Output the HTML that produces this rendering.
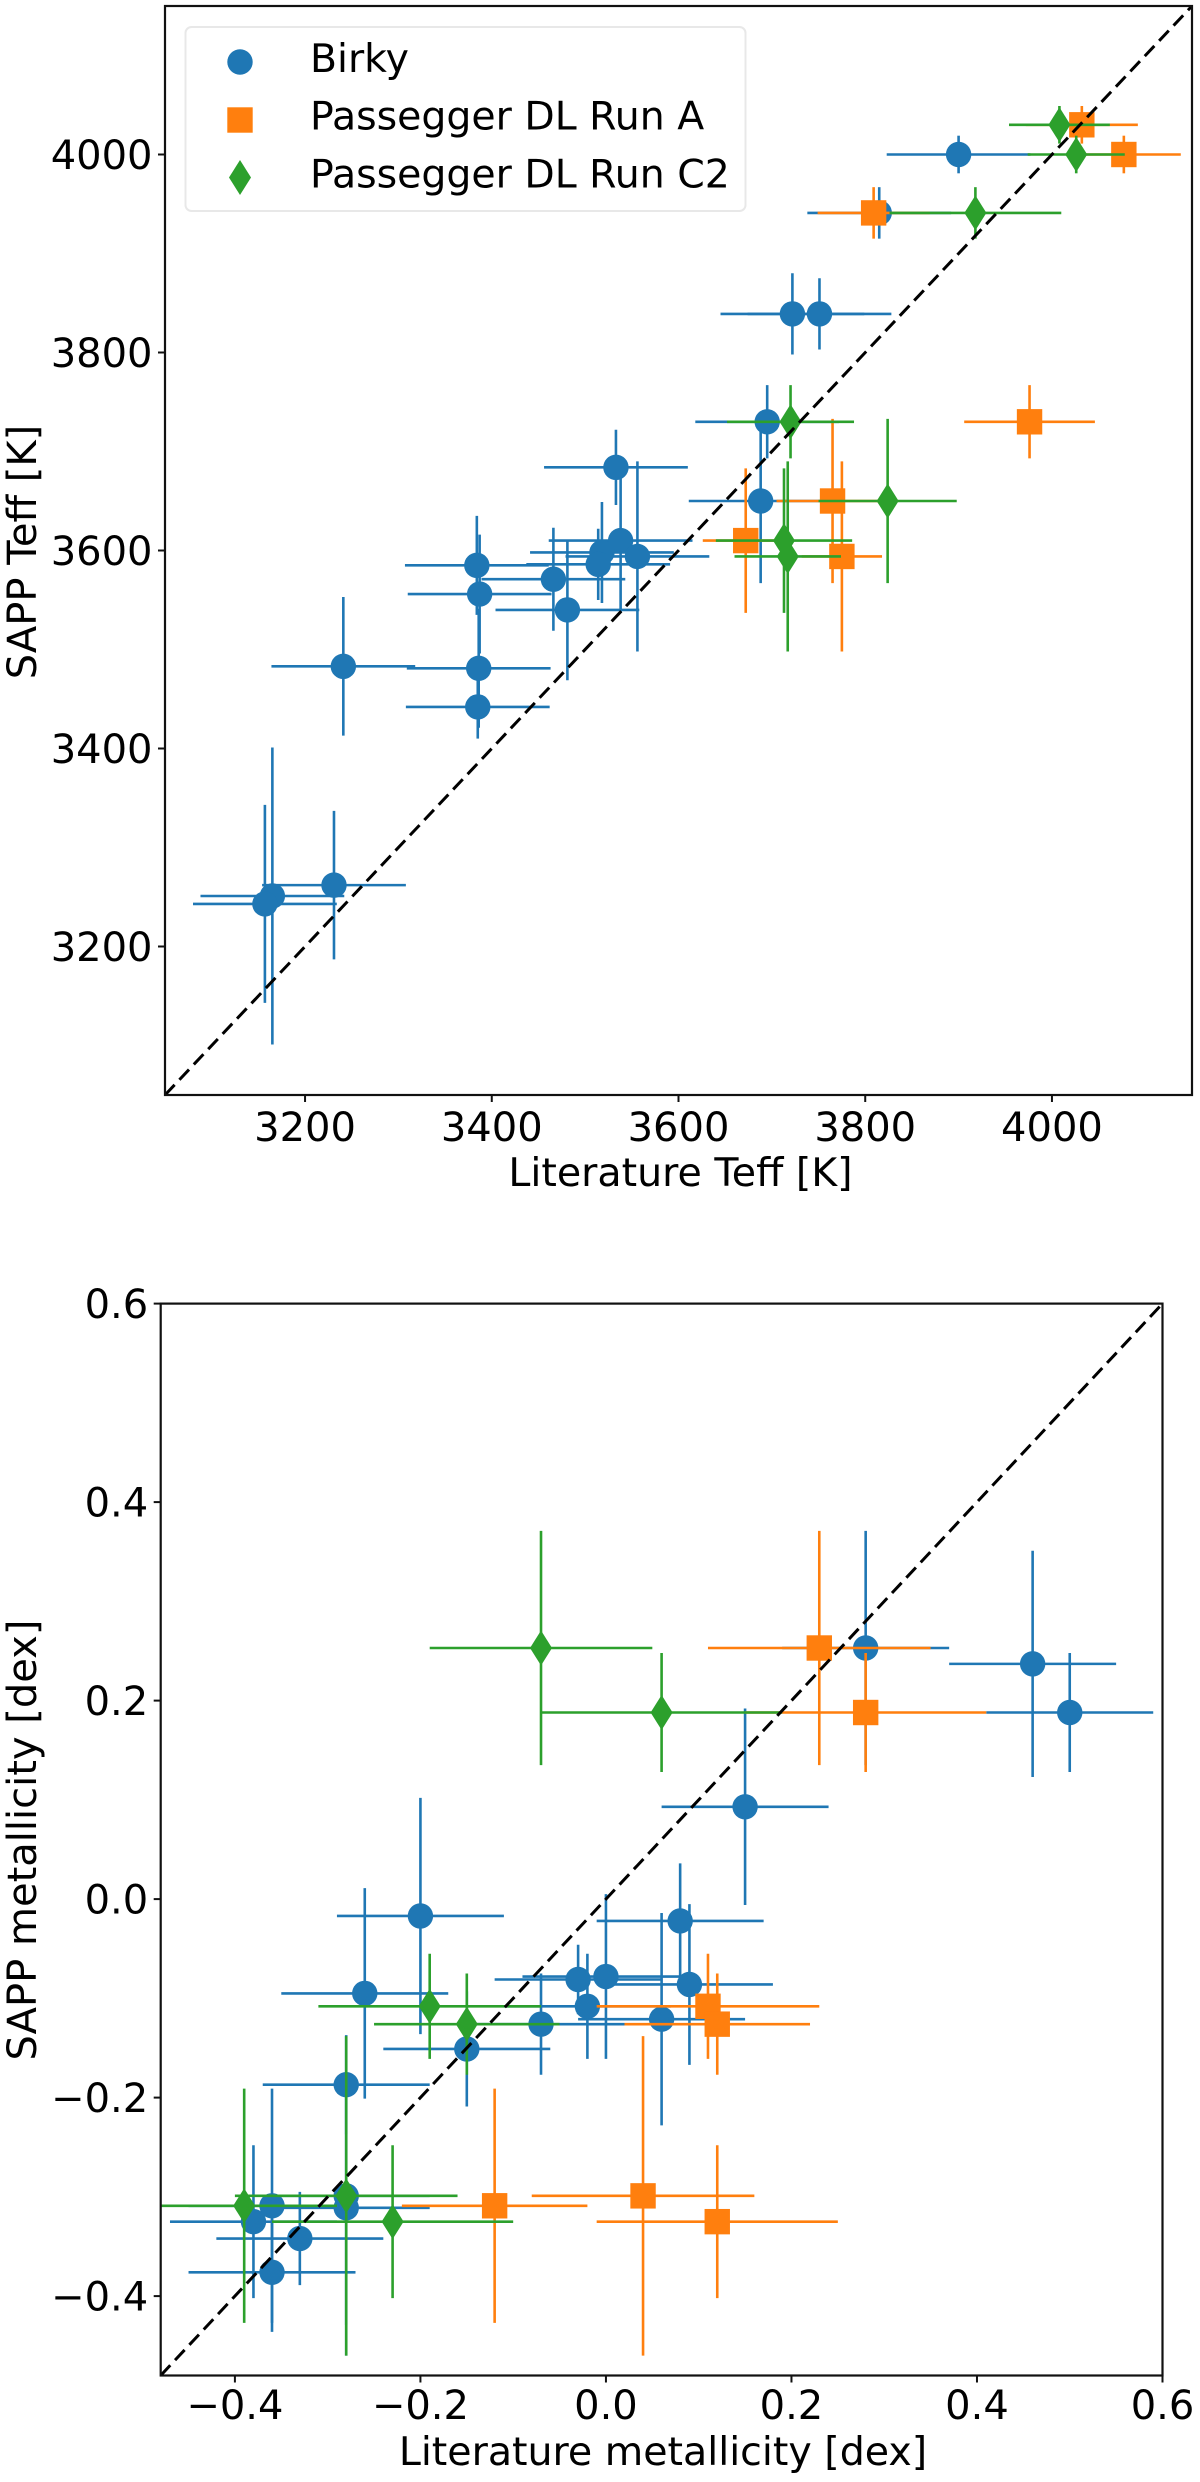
<!DOCTYPE html>
<html lang="en">
<head>
<meta charset="utf-8">
<title>SAPP vs literature comparison</title>
<style>
  html, body { margin: 0; padding: 0; background: #fff; }
  svg { display: block; }
  text { font-family: "DejaVu Sans", "Liberation Sans", sans-serif; fill: #000; }
</style>
</head>
<body>
<svg id="figure" xmlns="http://www.w3.org/2000/svg" width="1200" height="2482" viewBox="0 0 1200 2482">
  <defs>
    <clipPath id="clip-teff"><rect x="165" y="6" width="1027" height="1089"></rect></clipPath>
    <clipPath id="clip-metal"><rect x="160.7" y="1303.6" width="1001.8" height="1071.9"></rect></clipPath>
  </defs>
  <g id="panel-teff"></g>
  <g id="panel-metal"></g>
  <g id="legend">
    <rect x="185.5" y="27" width="560" height="184" rx="6" ry="6" fill="#fff" stroke="#e8e8e8" stroke-width="2"></rect>
    <g>
      <circle cx="240" cy="62" r="12.7" fill="#1f77b4"></circle>
      <text x="310" y="72" font-size="39.4">Birky</text>
    </g>
    <g>
      <rect x="227.3" y="107.3" width="25.4" height="25.4" fill="#ff7f0e"></rect>
      <text x="310" y="129.5" font-size="39.4">Passegger DL Run A</text>
    </g>
    <g>
      <polygon points="240,160 251,177.5 240,195 229,177.5" fill="#2ca02c"></polygon>
      <text x="310" y="187.5" font-size="39.4">Passegger DL Run C2</text>
    </g>
  </g>
</svg>
<script>
// ---------- Teff panel data ----------
const teffTicks = [3200, 3400, 3600, 3800, 4000];
const teffLimits = [3050, 4150];

const teffLitBirky = [3900, 3815, 3722, 3751, 3695, 3688, 3533, 3538, 3556, 3518, 3514, 3466, 3481, 3384, 3387, 3386, 3385, 3241, 3231, 3165, 3157];
const teffSappBirky = [4000, 3941, 3839, 3839, 3730, 3650, 3684, 3610, 3594, 3598, 3586, 3571, 3540, 3585, 3556, 3481, 3442, 3483, 3262, 3251, 3243];
const teffLitErrBirky = [77, 77, 77, 77, 77, 77, 77, 77, 77, 77, 77, 77, 77, 77, 77, 77, 77, 77, 77, 77, 77];
const teffSappErrBirky = [19, 26, 41, 36, 37, 83, 38, 73, 96, 51, 36, 52, 71, 50, 60, 60, 32, 70, 75, 150, 100];

const teffLitRunA = [4032, 4077, 3809, 3976, 3765, 3672, 3775];
const teffSappRunA = [4030, 4000, 3941, 3730, 3650, 3610, 3594];
const teffLitErrRunA = [60, 61, 60, 70, 60, 46, 43];
const teffSappErrRunA = [19, 19, 26, 37, 83, 73, 96];

const teffLitRunC2 = [4008, 4026, 3918, 3720, 3824, 3713, 3717];
const teffSappRunC2 = [4030, 4000, 3941, 3730, 3650, 3610, 3594];
const teffLitErrRunC2 = [54, 52, 92, 68, 74, 73, 57];
const teffSappErrRunC2 = [19, 19, 26, 37, 83, 73, 96];

// ---------- Metallicity panel data ----------
const metalTicks = [-0.4, -0.2, 0.0, 0.2, 0.4, 0.6];
const metalLimits = [-0.48, 0.6];

const metalLitBirky = [0.28, 0.46, 0.50, 0.15, 0.08, -0.20, -0.26, -0.03, 0.00, 0.09, -0.02, 0.06, -0.07, -0.15, -0.28, -0.36, -0.28, -0.28, -0.38, -0.33, -0.36];
const metalSappBirky = [0.253, 0.237, 0.188, 0.093, -0.022, -0.017, -0.095, -0.081, -0.078, -0.086, -0.108, -0.121, -0.126, -0.151, -0.187, -0.309, -0.311, -0.299, -0.325, -0.342, -0.376];
const metalLitErrBirky = [0.09, 0.09, 0.09, 0.09, 0.09, 0.09, 0.09, 0.09, 0.09, 0.09, 0.09, 0.09, 0.09, 0.09, 0.09, 0.09, 0.09, 0.09, 0.09, 0.09, 0.09];
const metalSappErrBirky = [0.118, 0.114, 0.06, 0.099, 0.058, 0.119, 0.106, 0.035, 0.083, 0.081, 0.053, 0.107, 0.051, 0.058, 0.05, 0.118, 0.118, 0.161, 0.077, 0.047, 0.06];

const metalLitRunA = [0.23, 0.28, 0.11, 0.12, -0.12, 0.04, 0.12];
const metalSappRunA = [0.253, 0.188, -0.108, -0.126, -0.309, -0.299, -0.325];
const metalLitErrRunA = [0.12, 0.13, 0.12, 0.10, 0.10, 0.12, 0.13];
const metalSappErrRunA = [0.118, 0.06, 0.053, 0.051, 0.118, 0.161, 0.077];

const metalLitRunC2 = [-0.07, 0.06, -0.19, -0.15, -0.39, -0.28, -0.23];
const metalSappRunC2 = [0.253, 0.188, -0.108, -0.126, -0.309, -0.299, -0.325];
const metalLitErrRunC2 = [0.12, 0.13, 0.12, 0.10, 0.10, 0.12, 0.13];
const metalSappErrRunC2 = [0.118, 0.06, 0.053, 0.051, 0.118, 0.161, 0.077];

// ---------- Axis functions ----------
const NS = 'http://www.w3.org/2000/svg';
function makeScale(domain, start, end) {
  return function (v) { return start + (v - domain[0]) / (domain[1] - domain[0]) * (end - start); };
}
const teffBox = { left: 165, right: 1192, top: 6, bottom: 1095 };
const metalBox = { left: 160.7, right: 1162.5, top: 1303.6, bottom: 2375.5 };
const xTeff = makeScale(teffLimits, teffBox.left, teffBox.right);
const yTeff = makeScale(teffLimits, teffBox.bottom, teffBox.top);
const xMetal = makeScale(metalLimits, metalBox.left, metalBox.right);
const yMetal = makeScale(metalLimits, metalBox.bottom, metalBox.top);

function svgEl(tag, attrs, parent) {
  const el = document.createElementNS(NS, tag);
  for (const k in attrs) el.setAttribute(k, attrs[k]);
  parent.appendChild(el);
  return el;
}

function drawBar(parent, x1, y1, x2, y2, color, name) {
  const line = svgEl('line', { x1: x1, y1: y1, x2: x2, y2: y2, stroke: color, 'stroke-width': 2.6 }, parent);
  
  
}

function drawMarker(parent, shape, px, py, color, name) {
  let m;
  if (shape === 'circle') {
    m = svgEl('circle', { cx: px, cy: py, r: 12.7, fill: color }, parent);
  } else if (shape === 'square') {
    m = svgEl('rect', { x: px - 12.7, y: py - 12.7, width: 25.4, height: 25.4, fill: color }, parent);
  } else {
    const pts = [[px, py - 17.5], [px + 11, py], [px, py + 17.5], [px - 11, py]].map(function (p) { return p.join(','); }).join(' ');
    m = svgEl('polygon', { points: pts, fill: color }, parent);
  }
  
  
}

function drawSeries(parent, clipId, sx, sy, xs, ys, xerr, yerr, color, shape, seriesName) {
  const g = svgEl('g', { 'clip-path': 'url(#' + clipId + ')' }, parent);
  
  
  xs.forEach(function (xv, i) {
    drawBar(g, sx(xv - xerr[i]), sy(ys[i]), sx(xv + xerr[i]), sy(ys[i]), color, seriesName + '-x-error');
    drawBar(g, sx(xv), sy(ys[i] - yerr[i]), sx(xv), sy(ys[i] + yerr[i]), color, seriesName + '-y-error');
  });
  xs.forEach(function (xv, i) {
    drawMarker(g, shape, sx(xv), sy(ys[i]), color, seriesName + '-point');
  });
}

function addText(parent, str, x, y, size, anchor, name) {
  const t = svgEl('text', { x: x, y: y, 'font-size': size, 'text-anchor': anchor }, parent);
  t.textContent = str;
  
  
  return t;
}

function addRotatedText(parent, str, x, y, size, name) {
  const t = svgEl('text', { 'font-size': size, 'text-anchor': 'middle', transform: 'translate(' + x + ' ' + y + ') rotate(-90)' }, parent);
  t.textContent = str;
  
  
  return t;
}

function drawAxes(parent, box, sx, sy, ticks, format, xLabelBase) {
  const frame = svgEl('rect', { x: box.left, y: box.top, width: box.right - box.left, height: box.bottom - box.top, fill: 'none', stroke: '#111', 'stroke-width': 2.2 }, parent);
  
  
  ticks.forEach(function (v) {
    const px = sx(v);
    const py = sy(v);
    const xt = svgEl('line', { x1: px, y1: box.bottom, x2: px, y2: box.bottom + 7, stroke: '#111', 'stroke-width': 2 }, parent);
    
    
    const yt = svgEl('line', { x1: box.left - 7, y1: py, x2: box.left, y2: py, stroke: '#111', 'stroke-width': 2 }, parent);
    
    
    addText(parent, format(v), px, xLabelBase, 40, 'middle', 'x-tick-label');
    addText(parent, format(v), box.left - 12.5, py + 14.5, 40, 'end', 'y-tick-label');
  });
}

function drawIdentity(parent, clipId, sx, sy, limits) {
  const line = svgEl('line', { x1: sx(limits[0]), y1: sy(limits[0]), x2: sx(limits[1]), y2: sy(limits[1]), stroke: '#000', 'stroke-width': 3, 'stroke-dasharray': '14 7', 'clip-path': 'url(#' + clipId + ')' }, parent);
  
  
}

function formatTeff(v) { return String(v); }
function formatMetal(v) {
  const s = Math.abs(v).toFixed(1);
  return (v < 0 ? '\u2212' : '') + s;
}

// ---------- Teff panel ----------
const teffPanel = document.getElementById('panel-teff');
drawSeries(teffPanel, 'clip-teff', xTeff, yTeff, teffLitBirky, teffSappBirky, teffLitErrBirky, teffSappErrBirky, '#1f77b4', 'circle', 'teff-birky');
drawSeries(teffPanel, 'clip-teff', xTeff, yTeff, teffLitRunA, teffSappRunA, teffLitErrRunA, teffSappErrRunA, '#ff7f0e', 'square', 'teff-run-a');
drawSeries(teffPanel, 'clip-teff', xTeff, yTeff, teffLitRunC2, teffSappRunC2, teffLitErrRunC2, teffSappErrRunC2, '#2ca02c', 'diamond', 'teff-run-c2');
drawIdentity(teffPanel, 'clip-teff', xTeff, yTeff, teffLimits);
drawAxes(teffPanel, teffBox, xTeff, yTeff, teffTicks, formatTeff, 1141);
addText(teffPanel, 'Literature Teff [K]', 680.5, 1186, 39.5, 'middle', 'x-axis-title');
addRotatedText(teffPanel, 'SAPP Teff [K]', 36, 552, 40, 'y-axis-title');

// ---------- Metallicity panel ----------
const metalPanel = document.getElementById('panel-metal');
drawSeries(metalPanel, 'clip-metal', xMetal, yMetal, metalLitBirky, metalSappBirky, metalLitErrBirky, metalSappErrBirky, '#1f77b4', 'circle', 'metal-birky');
drawSeries(metalPanel, 'clip-metal', xMetal, yMetal, metalLitRunA, metalSappRunA, metalLitErrRunA, metalSappErrRunA, '#ff7f0e', 'square', 'metal-run-a');
drawSeries(metalPanel, 'clip-metal', xMetal, yMetal, metalLitRunC2, metalSappRunC2, metalLitErrRunC2, metalSappErrRunC2, '#2ca02c', 'diamond', 'metal-run-c2');
drawIdentity(metalPanel, 'clip-metal', xMetal, yMetal, metalLimits);
drawAxes(metalPanel, metalBox, xMetal, yMetal, metalTicks, formatMetal, 2419);
addText(metalPanel, 'Literature metallicity [dex]', 663, 2465, 39.5, 'middle', 'x-axis-title');
addRotatedText(metalPanel, 'SAPP metallicity [dex]', 36, 1840, 40, 'y-axis-title');
</script>
</body>
</html>
